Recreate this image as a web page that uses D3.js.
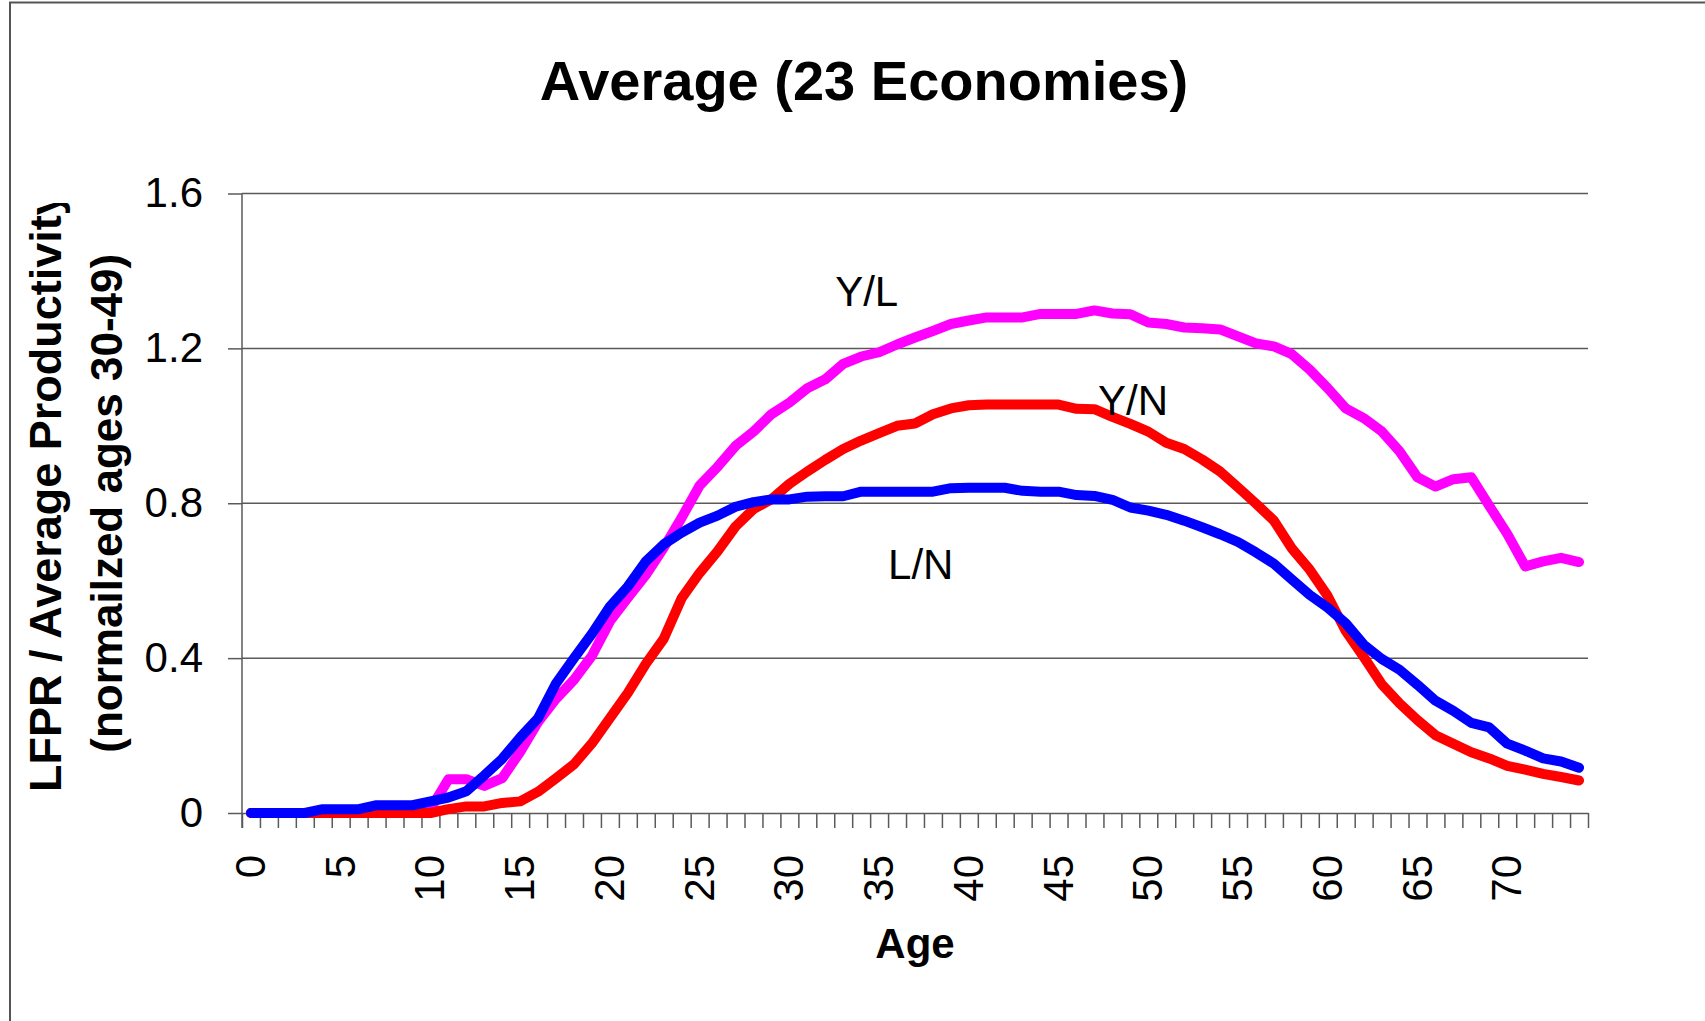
<!DOCTYPE html>
<html>
<head>
<meta charset="utf-8">
<script src="https://cdn.jsdelivr.net/npm/d3@7"></script>
<style>
  html, body { margin: 0; padding: 0; background: #fff; }
  svg { display: block; }
  text { font-family: "Liberation Sans", Arial, sans-serif; fill: #000; }
</style>
</head>
<body>
<svg id="chart" width="1705" height="1021"></svg>
<script>
// Age categories (0 to 74)
const ages = [0,1,2,3,4,5,6,7,8,9,10,11,12,13,14,15,16,17,18,19,20,21,22,23,24,
  25,26,27,28,29,30,31,32,33,34,35,36,37,38,39,40,41,42,43,44,45,46,47,48,49,
  50,51,52,53,54,55,56,57,58,59,60,61,62,63,64,65,66,67,68,69,70,71,72,73,74];

// Y/L : average productivity by age (normalized, ages 30-49)
const yPerL = [0,0,0,0,0,0,0,0,0,0,0.01,0.087,0.087,0.07,0.09,0.158,0.235,0.295,0.344,0.406,
  0.495,0.556,0.615,0.685,0.763,0.846,0.894,0.948,0.985,1.03,1.06,1.097,1.12,1.16,1.179,
  1.19,1.21,1.228,1.245,1.263,1.272,1.28,1.28,1.28,1.289,1.289,1.289,1.298,1.29,1.288,
  1.267,1.263,1.254,1.252,1.249,1.231,1.213,1.205,1.185,1.145,1.097,1.045,1.02,0.986,0.934,
  0.867,0.843,0.862,0.867,0.793,0.721,0.637,0.65,0.659,0.648];

// Y/N : output per person by age
const yPerN = [0,0,0,0,0,0,0,0,0,0,0,0.01,0.017,0.017,0.026,0.03,0.055,0.09,0.126,0.18,
  0.245,0.31,0.385,0.45,0.555,0.62,0.676,0.74,0.785,0.81,0.85,0.882,0.912,0.94,0.962,
  0.981,1.0,1.006,1.03,1.045,1.053,1.055,1.055,1.055,1.055,1.055,1.044,1.043,1.023,1.005,
  0.985,0.956,0.94,0.913,0.882,0.841,0.799,0.755,0.683,0.628,0.56,0.47,0.403,0.333,0.283,
  0.24,0.201,0.179,0.157,0.141,0.122,0.112,0.101,0.093,0.084];

// L/N : labour force participation rate by age
const lPerN = [0,0,0,0,0.01,0.01,0.01,0.02,0.02,0.02,0.03,0.04,0.056,0.097,0.14,0.195,0.245,0.335,0.40,0.463,
  0.533,0.585,0.65,0.694,0.724,0.75,0.768,0.791,0.803,0.81,0.81,0.817,0.818,0.818,0.83,
  0.83,0.83,0.83,0.83,0.839,0.84,0.84,0.84,0.832,0.83,0.83,0.821,0.819,0.809,0.789,
  0.781,0.770,0.755,0.738,0.72,0.70,0.673,0.644,0.603,0.563,0.53,0.49,0.435,0.398,0.37,
  0.331,0.29,0.264,0.233,0.221,0.179,0.161,0.141,0.133,0.117];

const ageTickLabels = [0,5,10,15,20,25,30,35,40,45,50,55,60,65,70];
const yTickValues = [0, 0.4, 0.8, 1.2, 1.6];

const seriesNames = ["Y/L", "Y/N", "L/N"];
const seriesColors = ["#ff00ff", "#ff0000", "#0000ff"];

const svg = d3.select("#chart");

// Outer frame of the chart area
svg.append("path")
  .attr("d", "M10,1021 L10,2.5 L1705,2.5")
  .attr("fill", "none")
  .attr("stroke", "#555")
  .attr("stroke-width", 2);

const plot = { left: 242, right: 1588, top: 193.5, bottom: 813 };

const x = d3.scaleBand().domain(ages).range([plot.left, plot.right]).padding(0);
const xEdge = d3.scaleLinear().domain([0, ages.length]).range([plot.left, plot.right]);
const y = d3.scaleLinear().domain([0, 1.6]).range([plot.bottom, plot.top]);

const axisGrey = "#5a5a5a";

// Horizontal gridlines
svg.append("g")
  .selectAll("line")
  .data(yTickValues.filter(v => v > 0))
  .join("line")
  .attr("x1", plot.left).attr("x2", plot.right)
  .attr("y1", d => y(d)).attr("y2", d => y(d))
  .attr("stroke", axisGrey)
  .attr("stroke-width", 1.5);

// Y axis
const yAxis = svg.append("g")
  .attr("transform", `translate(${plot.left},0)`)
  .call(d3.axisLeft(y)
    .tickValues(yTickValues)
    .tickSize(14)
    .tickSizeOuter(0)
    .tickPadding(25)
    .tickFormat(d => d === 0 ? "0" : d3.format(".1f")(d)));
yAxis.select(".domain")
  .attr("d", `M0,${plot.top}V${plot.bottom + 15}`)
  .attr("stroke", axisGrey).attr("stroke-width", 1.5);
yAxis.selectAll(".tick line").attr("stroke", axisGrey).attr("stroke-width", 1.5);
yAxis.selectAll(".tick text")
  .style("font-family", "'Liberation Sans', Arial, sans-serif")
  .style("font-size", "42px")
  .attr("fill", "#000");

// X axis: tick marks on category boundaries
const xAxis = svg.append("g")
  .attr("transform", `translate(0,${plot.bottom})`)
  .call(d3.axisBottom(xEdge)
    .tickValues(d3.range(0, ages.length + 1))
    .tickSize(15)
    .tickSizeOuter(0)
    .tickFormat(""));
xAxis.select(".domain").attr("stroke", axisGrey).attr("stroke-width", 1.5);
xAxis.selectAll(".tick line").attr("stroke", axisGrey).attr("stroke-width", 1.5);

// X tick labels, rotated, centred on their category
svg.append("g")
  .selectAll("text")
  .data(ageTickLabels)
  .join("text")
  .attr("transform", d => `translate(${x(d) + x.bandwidth() / 2 + 14},855) rotate(-90)`)
  .attr("text-anchor", "end")
  .style("font-size", "42px")
  .text(d => d);

// Series lines
const line = d3.line()
  .x((d, i) => x(ages[i]) + x.bandwidth() / 2)
  .y(d => y(d));

const seriesData = [yPerL, yPerN, lPerN];
svg.append("g")
  .selectAll("path")
  .data(seriesData)
  .join("path")
  .attr("d", d => line(d))
  .attr("fill", "none")
  .attr("stroke", (d, i) => seriesColors[i])
  .attr("stroke-width", 10)
  .attr("stroke-linejoin", "round")
  .attr("stroke-linecap", "round");

// Series labels, placed in age / value coordinates
const seriesLabelPos = [
  { name: seriesNames[0], age: 33.05, value: 1.309 },
  { name: seriesNames[1], age: 47.7, value: 1.029 },
  { name: seriesNames[2], age: 36.0, value: 0.605 }
];
svg.append("g")
  .selectAll("text")
  .data(seriesLabelPos)
  .join("text")
  .attr("x", d => xEdge(d.age))
  .attr("y", d => y(d.value))
  .style("font-size", "42px")
  .text(d => d.name);

// Title
svg.append("text")
  .attr("x", 864)
  .attr("y", 100)
  .attr("text-anchor", "middle")
  .style("font-size", "56px")
  .style("font-weight", "bold")
  .text("Average (23 Economies)");

// X axis title
svg.append("text")
  .attr("x", (plot.left + plot.right) / 2)
  .attr("y", 958)
  .attr("text-anchor", "middle")
  .style("font-size", "42px")
  .style("font-weight", "bold")
  .text("Age");

// Y axis title (two lines), clipped at the top like its text box
svg.append("clipPath").attr("id", "ytitle-clip")
  .append("rect").attr("x", 0).attr("y", 203).attr("width", 200).attr("height", 800);
const yTitle = svg.append("g").attr("clip-path", "url(#ytitle-clip)");
yTitle.append("text")
  .attr("transform", "translate(61,792) rotate(-90)")
  .attr("text-anchor", "start")
  .style("font-size", "45px")
  .style("font-weight", "bold")
  .text("LFPR / Average Productivity");
yTitle.append("text")
  .attr("transform", `translate(122,${(plot.top + plot.bottom) / 2}) rotate(-90)`)
  .attr("text-anchor", "middle")
  .style("font-size", "44px")
  .style("font-weight", "bold")
  .text("(normailzed ages 30-49)");
</script>
</body>
</html>
